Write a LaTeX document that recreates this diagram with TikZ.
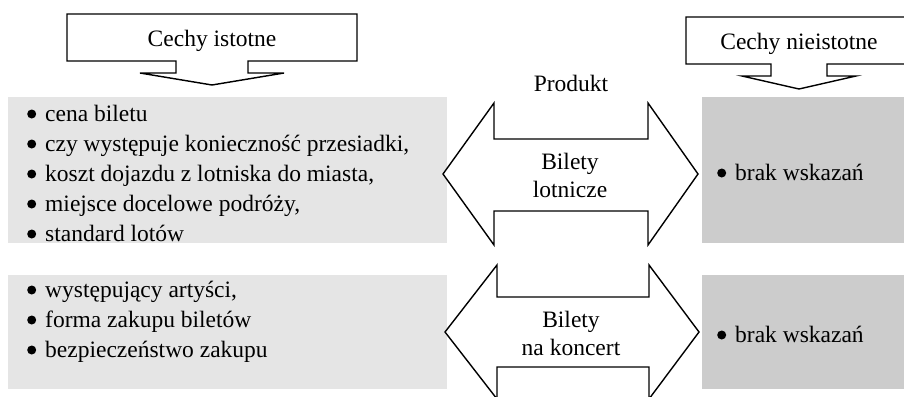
\documentclass[tikz,border=0pt]{standalone}
\usepackage{fontspec}
\setmainfont{Liberation Serif}
\usetikzlibrary{positioning}
\newcommand{\listdot}{\tikz[baseline=0pt, x=1pt, y=1pt]\fill[black] (4.5,7) circle (4.5);\hspace{9pt}}

\begin{document}
\begin{tikzpicture}[x=1pt, y=-1pt,
    lightbox/.style={fill=black!10, draw=none},
    darkbox/.style={fill=black!20, draw=none},
    shapeline/.style={draw=black, line width=1.4pt, fill=white, line join=miter},
    arrowtext/.style={font=\fontsize{23.5}{28}\selectfont, align=center, inner sep=0pt},
    itemtext/.style={font=\fontsize{23.5}{30}\selectfont, inner sep=0pt, anchor=base west}
    ]
    \useasboundingbox (0,0) rectangle (904,396);

    %Boxes
    \fill[lightbox] (8,97) rectangle (447,243);
    \fill[lightbox] (8,275) rectangle (447,389);
    \fill[darkbox] (702,97) rectangle (904,243);
    \fill[darkbox] (702,275) rectangle (904,389);

    %Callouts
    \draw[shapeline] (67,14) -- (357,14) -- (357,61) -- (248,61) -- (248,73) -- (284,73)
        -- (212,85) -- (140,73) -- (176,73) -- (176,61) -- (67,61) -- cycle;
    \draw[shapeline] (686,17) -- (912,17) -- (912,64) -- (827,64) -- (827,76) -- (856,76)
        -- (799,89) -- (742,76) -- (771,76) -- (771,64) -- (686,64) -- cycle;
    \node[itemtext, anchor=base] (istotne) at (212,47) {Cechy istotne};
    \node[itemtext, anchor=base] (nieistotne) at (799,50) {Cechy nieistotne};

    %Double arrows
    \draw[shapeline] (443,174) -- (494,103) -- (494,139) -- (648,139) -- (648,103) -- (698,174)
        -- (648,245) -- (648,211) -- (494,211) -- (494,245) -- cycle;
    \draw[shapeline] (445,332) -- (497,265) -- (497,297) -- (649,297) -- (649,265) -- (699,332)
        -- (649,399) -- (649,367) -- (497,367) -- (497,399) -- cycle;
    \node[itemtext, anchor=base] (produkt) at (571,92) {Produkt};
    \node[arrowtext] (lotnicze) at (570,175) {Bilety\\lotnicze};
    \node[arrowtext] (koncert) at (571,333) {Bilety\\na koncert};

    %Lists
    \foreach \txt [count=\i from 0] in {cena biletu, {czy występuje konieczność przesiadki,},
        {koszt dojazdu z lotniska do miasta,}, {miejsce docelowe podróży,}, standard lotów}
        \node[itemtext] (lot\i) at (27,121+30*\i) {\listdot\txt};
    \foreach \txt [count=\i from 0] in {{występujący artyści,}, forma zakupu biletów,
        bezpieczeństwo zakupu}
        \node[itemtext] (kon\i) at (27,297+30*\i) {\listdot\txt};
    \node[itemtext] (brakA) at (717,180) {\listdot brak wskazań};
    \node[itemtext] (brakB) at (717,342) {\listdot brak wskazań};
\end{tikzpicture}
\end{document}
